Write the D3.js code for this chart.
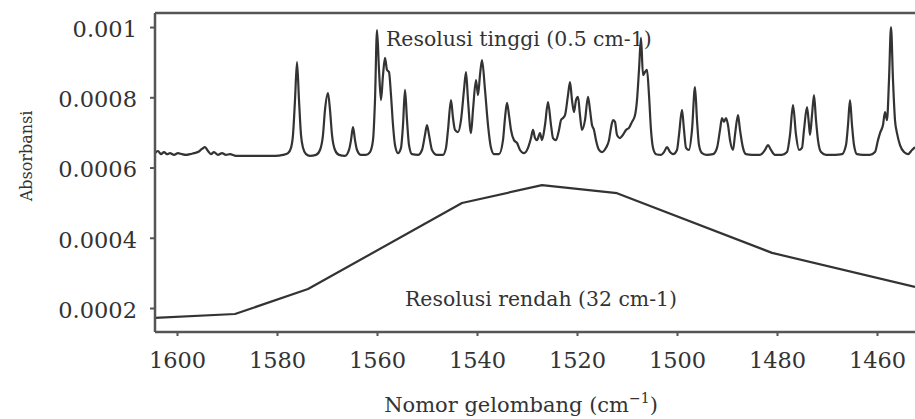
<!DOCTYPE html>
<html>
<head>
<meta charset="utf-8">
<script src="https://cdn.jsdelivr.net/npm/d3@7"></script>
<style>
  html, body { margin: 0; padding: 0; background: #fff; }
  svg { display: block; }
  text { font-family: "DejaVu Serif", serif; fill: #333; }
</style>
</head>
<body>
<svg id="chart" width="915" height="419"></svg>
<script>
// Wavenumber axis (cm^-1), drawn high to low
const xTicks = [1600, 1580, 1560, 1540, 1520, 1500, 1480, 1460];
const yTicks = [0.0002, 0.0004, 0.0006, 0.0008, 0.001];
const yTickLabels = ["0.0002", "0.0004", "0.0006", "0.0008", "0.001"];

// High-resolution spectrum (0.5 cm-1): [wavenumber, absorbance]
const highRes = [
  [1604.4,0.000641],[1603.8,0.000647],[1603.2,0.000638],[1602.6,0.000644],[1602.0,0.000638],
  [1601.4,0.000641],[1600.6,0.000636],[1599.8,0.000641],[1599.0,0.000638],[1598.2,0.000636],
  [1597.4,0.000638],[1596.6,0.000641],[1595.8,0.000644],[1595.0,0.000653],[1594.4,0.000658],
  [1593.8,0.000647],[1593.2,0.000638],[1592.6,0.000644],[1591.8,0.000636],[1591.0,0.000641],
  [1590.2,0.000636],[1589.4,0.000638],[1588.2,0.000633],[1586.4,0.000633],[1584.4,0.000633],
  [1582.4,0.000633],[1580.4,0.000633],[1578.8,0.000636],[1577.8,0.000641],[1577.2,0.000656],
  [1576.8,0.000693],[1576.4,0.000792],[1576.0,0.000900],[1575.6,0.000792],[1575.2,0.000693],
  [1574.8,0.000656],[1574.2,0.000638],[1573.4,0.000633],[1572.2,0.000636],[1571.4,0.000650],
  [1570.8,0.000693],[1570.4,0.000764],[1569.8,0.000812],[1569.4,0.000764],[1569.0,0.000693],
  [1568.4,0.000650],[1567.6,0.000636],[1566.4,0.000633],[1565.6,0.000650],[1565.2,0.000678],
  [1564.8,0.000715],[1564.4,0.000678],[1564.0,0.000650],[1563.2,0.000636],[1562.2,0.000636],
  [1561.4,0.000644],[1560.8,0.000678],[1560.4,0.000792],[1560.0,0.000991],[1559.6,0.000878],
  [1559.2,0.000792],[1558.8,0.000863],[1558.4,0.000912],[1558.0,0.000878],[1557.6,0.000872],
  [1557.2,0.000806],[1556.8,0.000721],[1556.4,0.000664],[1555.8,0.000641],[1555.2,0.000656],
  [1554.8,0.000721],[1554.4,0.000821],[1554.0,0.000735],[1553.6,0.000664],[1553.0,0.000638],
  [1551.8,0.000636],[1551.0,0.000650],[1550.4,0.000693],[1550.0,0.000721],[1549.6,0.000693],
  [1549.0,0.000650],[1548.0,0.000636],[1546.8,0.000636],[1546.2,0.000656],[1545.8,0.000707],
  [1545.2,0.000792],[1544.8,0.000741],[1544.4,0.000707],[1543.8,0.000701],[1543.2,0.000735],
  [1542.6,0.000821],[1542.2,0.000872],[1541.8,0.000792],[1541.2,0.000698],[1540.8,0.000764],
  [1540.2,0.000849],[1539.8,0.000806],[1539.4,0.000863],[1539.0,0.000906],[1538.4,0.000821],
  [1537.8,0.000721],[1537.2,0.000656],[1536.6,0.000638],[1535.6,0.000638],[1534.8,0.000678],
  [1534.4,0.000741],[1534.0,0.000784],[1533.6,0.000749],[1533.2,0.000707],[1532.6,0.000678],
  [1532.0,0.000670],[1531.4,0.000650],[1530.6,0.000641],[1529.8,0.000656],[1529.2,0.000684],
  [1528.8,0.000707],[1528.4,0.000684],[1528.0,0.000678],[1527.4,0.000698],[1527.0,0.000678],
  [1526.4,0.000721],[1525.8,0.000786],[1525.2,0.000721],[1524.8,0.000684],[1524.2,0.000678],
  [1523.6,0.000707],[1523.2,0.000735],[1522.8,0.000741],[1522.4,0.000749],[1521.8,0.000806],
  [1521.4,0.000843],[1521.0,0.000792],[1520.6,0.000758],[1520.2,0.000792],[1519.8,0.000801],
  [1519.4,0.000749],[1519.0,0.000707],[1518.4,0.000735],[1517.8,0.000801],[1517.4,0.000764],
  [1517.0,0.000721],[1516.6,0.000707],[1516.2,0.000678],[1515.6,0.000650],[1515.0,0.000644],
  [1514.2,0.000656],[1513.6,0.000678],[1513.2,0.000713],[1512.8,0.000735],[1512.4,0.000730],
  [1512.0,0.000693],[1511.4,0.000684],[1510.8,0.000693],[1510.2,0.000707],[1509.6,0.000713],
  [1509.0,0.000730],[1508.4,0.000749],[1508.0,0.000792],[1507.6,0.000878],[1507.2,0.000969],
  [1506.8,0.000863],[1506.4,0.000872],[1506.0,0.000878],[1505.6,0.000806],[1505.2,0.000707],
  [1504.8,0.000656],[1504.2,0.000638],[1503.2,0.000636],[1502.6,0.000644],[1502.0,0.000658],
  [1501.4,0.000644],[1500.8,0.000638],[1500.0,0.000650],[1499.6,0.000693],[1499.0,0.000764],
  [1498.6,0.000707],[1498.2,0.000656],[1497.6,0.000650],[1497.0,0.000707],[1496.4,0.000829],
  [1496.0,0.000735],[1495.6,0.000664],[1495.0,0.000641],[1494.0,0.000636],[1492.8,0.000638],
  [1492.0,0.000656],[1491.4,0.000707],[1491.0,0.000741],[1490.6,0.000730],[1490.2,0.000741],
  [1489.8,0.000721],[1489.4,0.000678],[1488.8,0.000650],[1488.4,0.000693],[1487.8,0.000749],
  [1487.4,0.000707],[1486.8,0.000656],[1486.2,0.000638],[1485.0,0.000636],[1483.4,0.000636],
  [1482.4,0.000650],[1481.8,0.000664],[1481.2,0.000650],[1480.4,0.000636],[1479.0,0.000636],
  [1478.0,0.000644],[1477.4,0.000693],[1476.8,0.000778],[1476.2,0.000693],[1475.6,0.000650],
  [1475.0,0.000656],[1474.6,0.000707],[1474.0,0.000772],[1473.6,0.000721],[1473.4,0.000693],
  [1473.0,0.000749],[1472.6,0.000806],[1472.2,0.000735],[1471.8,0.000678],[1471.2,0.000644],
  [1470.2,0.000636],[1468.4,0.000636],[1467.0,0.000638],[1466.2,0.000664],[1465.8,0.000721],
  [1465.4,0.000792],[1465.0,0.000721],[1464.6,0.000664],[1464.0,0.000638],[1462.8,0.000636],
  [1461.4,0.000636],[1460.4,0.000644],[1459.8,0.000678],[1459.4,0.000698],[1458.8,0.000721],
  [1458.4,0.000758],[1458.0,0.000735],[1457.6,0.000849],[1457.2,0.001000],[1456.8,0.000849],
  [1456.4,0.000735],[1456.0,0.000698],[1455.4,0.000664],[1454.6,0.000644],[1453.8,0.000638],
  [1453.0,0.000650],[1452.4,0.000658]
];

// Low-resolution spectrum (32 cm-1): [wavenumber, absorbance]
const lowRes = [
  [1604.4,0.000172],[1588.4,0.000183],[1573.8,0.000254],[1543.0,0.000499],
  [1527.0,0.000550],[1512.0,0.000527],[1481.0,0.000357],[1452.4,0.000260]
];

const svg = d3.select("#chart");
const plotLeft = 155, plotRight = 915, plotTop = 13, plotBottom = 332;

const x = d3.scaleLinear().domain([1604.4, 1452.4]).range([plotLeft, plotRight]);
const y = d3.scaleLinear().domain([0.0001317, 0.00104]).range([plotBottom, plotTop]);

const axisColor = "#555";
const lineColor = "#333";
const textColor = "#333";

// Spectra: the coarse scan is joined point to point, the fine scan is smoothed
const lowLine = d3.line().x(d => x(d[0])).y(d => y(d[1]));
const highLine = d3.line().x(d => x(d[0])).y(d => y(d[1])).curve(d3.curveMonotoneX);

svg.append("path")
  .datum(lowRes)
  .attr("fill", "none")
  .attr("stroke", lineColor)
  .attr("stroke-width", 2.2)
  .attr("stroke-linejoin", "round")
  .attr("d", lowLine);

svg.append("path")
  .datum(highRes)
  .attr("fill", "none")
  .attr("stroke", lineColor)
  .attr("stroke-width", 2.2)
  .attr("stroke-linejoin", "round")
  .attr("d", highLine);

// Frame: top border
svg.append("line")
  .attr("x1", plotLeft).attr("x2", plotRight)
  .attr("y1", plotTop).attr("y2", plotTop)
  .attr("stroke", axisColor).attr("stroke-width", 2.5);

// Axes
const xAxis = d3.axisBottom(x).tickValues(xTicks).tickSize(4).tickPadding(16).tickFormat(d3.format("d"));
const gx = svg.append("g").attr("transform", `translate(0,${plotBottom})`).call(xAxis);
gx.select(".domain").attr("stroke", axisColor).attr("stroke-width", 2.5)
  .attr("d", `M${plotLeft},0H${plotRight}`);
gx.selectAll(".tick line").attr("stroke", axisColor).attr("stroke-width", 2);
gx.selectAll(".tick text")
  .attr("font-family", "DejaVu Serif, serif")
  .attr("font-size", 22.5).attr("fill", textColor);

const yAxis = d3.axisLeft(y).tickValues(yTicks).tickSize(5).tickPadding(13)
  .tickFormat((d, i) => yTickLabels[i]);
const gy = svg.append("g").attr("transform", `translate(${plotLeft},0)`).call(yAxis);
gy.select(".domain").attr("stroke", axisColor).attr("stroke-width", 2.5)
  .attr("d", `M0,${plotBottom}V${plotTop}`);
gy.selectAll(".tick line").attr("stroke", axisColor).attr("stroke-width", 2);
gy.selectAll(".tick text")
  .attr("font-family", "DejaVu Serif, serif")
  .attr("font-size", 22.5).attr("fill", textColor)
  .attr("dy", "0.42em");

// Axis titles
const xt = svg.append("text")
  .attr("x", 521).attr("y", 412)
  .attr("text-anchor", "middle")
  .attr("font-size", 21);
xt.append("tspan").text("Nomor gelombang (cm");
xt.append("tspan").attr("font-size", 14).attr("dy", -9).text("\u22121");
xt.append("tspan").attr("dy", 9).text(")");

svg.append("text")
  .attr("transform", "translate(32,156) rotate(-90)")
  .attr("text-anchor", "middle")
  .attr("font-size", 16)
  .text("Absorbansi");

// Series annotations
svg.append("text")
  .attr("x", 386).attr("y", 46)
  .attr("font-size", 20.4)
  .text("Resolusi tinggi (0.5 cm-1)");

svg.append("text")
  .attr("x", 405).attr("y", 306)
  .attr("font-size", 20.4)
  .text("Resolusi rendah (32 cm-1)");
</script>
</body>
</html>
